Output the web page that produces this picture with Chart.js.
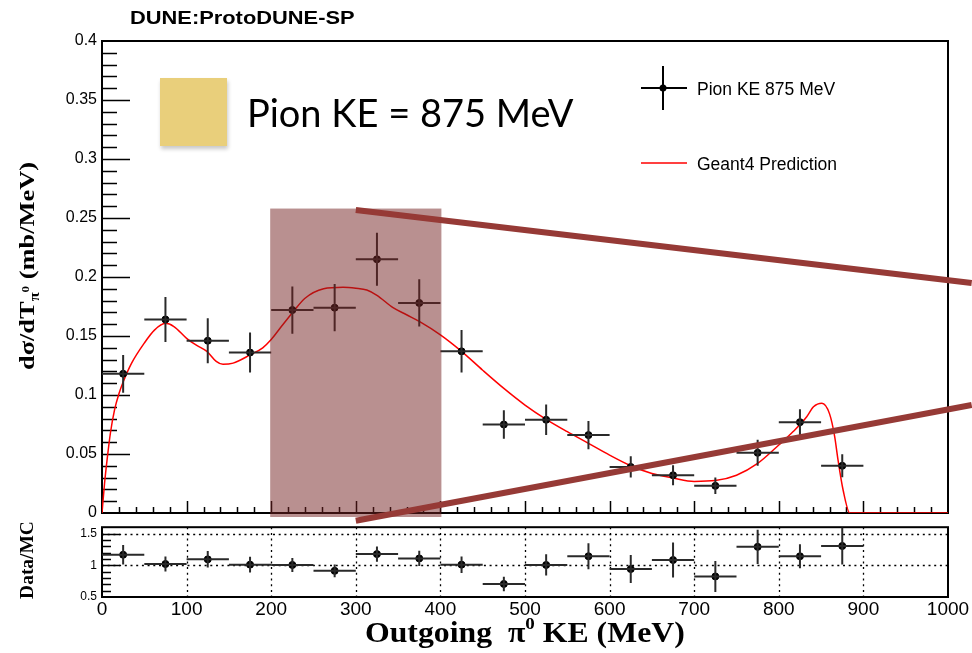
<!DOCTYPE html>
<html><head><meta charset="utf-8">
<script src="https://cdn.jsdelivr.net/npm/chart.js@4.4.1/dist/chart.umd.min.js"></script>
<style>
html,body{margin:0;padding:0;background:#fff;}
#wrap{position:relative;width:972px;height:653px;overflow:hidden;background:#fff;}
canvas{position:absolute;left:0;}
#cMain{top:0;}
#cRatio{top:515px;}
.t{position:absolute;white-space:nowrap;color:#000;}
#title{left:130px;top:8px;font:bold 19px/19px "Liberation Sans",Arial,sans-serif;transform:scaleX(1.15);transform-origin:left center;}
#big{left:247px;top:93px;font:38px/38px Lato,"Open Sans",sans-serif;}
#sq{position:absolute;left:160px;top:78px;width:67px;height:68px;background:#e9cf7b;box-shadow:1px 3px 4px rgba(0,0,0,0.22);}
.leg{font:17.5px/18px "Liberation Sans",Arial,sans-serif;left:697px;}
#xtitle{left:365px;top:618px;font:bold 29px/29px "Liberation Serif","Times New Roman",serif;transform:scaleX(1.095);transform-origin:left center;}
#xtitle sup{font-size:60%;line-height:0;vertical-align:0.75em;}
.yt{font-weight:bold;font-family:"Liberation Serif","Times New Roman",serif;text-align:center;transform-origin:center center;}
#ytitle{width:300px;height:24px;left:-123px;top:254px;font-size:22px;line-height:24px;transform:rotate(-90deg) scaleX(1.2);}
#ytitle sub{font-size:62%;line-height:0;vertical-align:-0.35em;}
#ytitle sub sup{font-size:80%;line-height:0;vertical-align:0.9em;}
#rtitle{width:120px;height:20px;left:-33px;top:550px;font-size:18px;line-height:20px;transform:rotate(-90deg) scaleX(1.08);}
</style></head><body>
<div id="wrap">
<canvas id="cMain" width="972" height="530"></canvas>
<canvas id="cRatio" width="972" height="138"></canvas>
<div class="t" id="title">DUNE:ProtoDUNE-SP</div>
<div id="sq"></div>
<div class="t" id="big">Pion KE = 875 MeV</div>
<div class="t leg" style="top:80px">Pion KE 875 MeV</div>
<div class="t leg" style="top:155px">Geant4 Prediction</div>
<div class="t" id="xtitle">Outgoing&nbsp;&nbsp;π<sup>0</sup> KE (MeV)</div>
<div class="t yt" id="ytitle">dσ/dT<sub>π<sup>0</sup></sub> (mb/MeV)</div>
<div class="t yt" id="rtitle">Data/MC</div>
</div>
<script>
// ---------- data ----------
const binCenters = [25,75,125,175,225,275,325,375,425,475,525,575,625,675,725,775,825,875];
const binHalfWidth = 25;
const xsec    = [0.118,0.164,0.146,0.136,0.172,0.174,0.215,0.178,0.137,0.075,0.079,0.066,0.039,0.032,0.023,0.051,0.077,0.040];
const xsecErr = [0.016,0.019,0.019,0.017,0.020,0.020,0.0225,0.020,0.018,0.012,0.013,0.012,0.009,0.0085,0.007,0.011,0.011,0.0097];
const ratio    = [1.166,1.02,1.093,1.01,1.005,0.912,1.176,1.108,1.01,0.706,1.005,1.142,0.941,1.083,0.824,1.29,1.142,1.304];
const ratioErr = [0.155,0.12,0.13,0.125,0.11,0.10,0.12,0.12,0.13,0.115,0.167,0.205,0.22,0.277,0.245,0.27,0.19,0.29];
const curveX = [0,3,6,10,15,20,25,35,50,62,75,85,100,112,124,135,143,155,175,190,200,212,226,240,262,285,300,313,325,344,360,376,400,425,450,475,500,525,550,575,600,625,650,675,700,725,750,775,800,817,833,841,851,860,866,870,876,884,900,1000];
const curveY = [0,0.025,0.045,0.068,0.088,0.101,0.111,0.127,0.144,0.155,0.1607,0.158,0.148,0.142,0.137,0.1285,0.126,0.127,0.134,0.140,0.147,0.158,0.1706,0.182,0.190,0.1913,0.1905,0.189,0.1845,0.174,0.168,0.162,0.151,0.137,0.121,0.1056,0.0915,0.0794,0.0689,0.059,0.049,0.0400,0.0335,0.0297,0.0268,0.0275,0.032,0.042,0.0576,0.069,0.0816,0.090,0.093,0.084,0.065,0.045,0.0195,0,0,0];
const yTickLabels = ['0','0.05','0.1','0.15','0.2','0.25','0.3','0.35','0.4'];
const xTickLabels = ['0','100','200','300','400','500','600','700','800','900','1000'];
const ratioTickValues = [0.5,1,1.5];
const ratioTickLabels = ['0.5','1','1.5'];
const gridX = [100,200,300,400,500,600,700,800,900];
const gridRatioY = [1,1.5];
// annotation (data coordinates)
const bandX = [200,400];
const bandTop = 0.258;
const arrowTop = [[300,0.2568],[1028,0.195]];
const arrowBottom = [[300,-0.0066],[1028,0.0915]];

const ERR_COLOR = '#2a2a2a';

function drawErrorBars(chart, vals, errs){
  const ctx = chart.ctx, xs = chart.scales.x, ys = chart.scales.y, a = chart.chartArea;
  ctx.save();
  ctx.beginPath(); ctx.rect(a.left, a.top, a.right-a.left, a.bottom-a.top); ctx.clip();
  ctx.strokeStyle = ERR_COLOR; ctx.lineWidth = 2;
  for (let i=0;i<binCenters.length;i++){
    const px = xs.getPixelForValue(binCenters[i]);
    const py = ys.getPixelForValue(vals[i]);
    ctx.beginPath();
    ctx.moveTo(xs.getPixelForValue(binCenters[i]-binHalfWidth), py);
    ctx.lineTo(xs.getPixelForValue(binCenters[i]+binHalfWidth), py);
    ctx.moveTo(px, ys.getPixelForValue(vals[i]-errs[i]));
    ctx.lineTo(px, ys.getPixelForValue(vals[i]+errs[i]));
    ctx.stroke();
  }
  ctx.restore();
}

const mainDeco = {
  id:'mainDeco',
  beforeDatasetsDraw(chart){
    const ctx = chart.ctx, xs = chart.scales.x, ys = chart.scales.y, a = chart.chartArea;
    ctx.save();
    ctx.strokeStyle = '#000'; ctx.lineWidth = 1.5;
    ctx.beginPath();
    for (let i=1;i<40;i++){
      const py = Math.round(ys.getPixelForValue(i/100))+0.5;
      const len = (i%5===0) ? 28 : 15;
      ctx.moveTo(a.left, py); ctx.lineTo(a.left+len, py);
    }
    for (let v=20; v<1000; v+=20){
      const px = Math.round(xs.getPixelForValue(v))+0.5;
      const len = (v%100===0) ? 12 : 6;
      ctx.moveTo(px, a.bottom); ctx.lineTo(px, a.bottom-len);
    }
    ctx.stroke();
    ctx.lineWidth = 2;
    ctx.strokeRect(a.left, a.top, a.right-a.left, a.bottom-a.top);
    ctx.restore();
  },
  afterDatasetsDraw(chart){
    drawErrorBars(chart, xsec, xsecErr);
  },
  afterDraw(chart){
    const ctx = chart.ctx, xs = chart.scales.x, ys = chart.scales.y, a = chart.chartArea;
    ctx.save();
    // legend symbols
    ctx.strokeStyle = '#000'; ctx.lineWidth = 2;
    ctx.beginPath();
    ctx.moveTo(641,88); ctx.lineTo(687,88);
    ctx.moveTo(663,66); ctx.lineTo(663,110);
    ctx.stroke();
    ctx.fillStyle = '#000';
    ctx.beginPath(); ctx.arc(663,88,3.5,0,Math.PI*2); ctx.fill();
    ctx.strokeStyle = '#ff0000'; ctx.lineWidth = 1.5;
    ctx.beginPath(); ctx.moveTo(641,163); ctx.lineTo(687,163); ctx.stroke();
    // zoom band overlay
    const x0 = xs.getPixelForValue(bandX[0]), x1 = xs.getPixelForValue(bandX[1]);
    const yT = ys.getPixelForValue(bandTop);
    ctx.fillStyle = 'rgba(116,34,34,0.5)';
    ctx.fillRect(x0-1, yT, x1-x0+2, a.bottom+4-yT);
    // thick guide lines
    ctx.strokeStyle = '#963a36'; ctx.lineWidth = 6; ctx.lineCap = 'butt';
    for (const seg of [arrowTop, arrowBottom]){
      ctx.beginPath();
      ctx.moveTo(xs.getPixelForValue(seg[0][0]), ys.getPixelForValue(seg[0][1]));
      ctx.lineTo(xs.getPixelForValue(seg[1][0]), ys.getPixelForValue(seg[1][1]));
      ctx.stroke();
    }
    ctx.restore();
  }
};

new Chart(document.getElementById('cMain'), {
  type:'scatter',
  data:{datasets:[
    {type:'line', label:'Geant4 Prediction', data: curveX.map((x,i)=>({x:x, y:curveY[i]})),
     borderColor:'#ff0000', borderWidth:1.5, pointRadius:0, cubicInterpolationMode:'monotone', fill:false, order:2},
    {label:'Pion KE 875 MeV', data: binCenters.map((x,i)=>({x:x, y:xsec[i]})),
     backgroundColor:'#000', borderColor:'#000', pointRadius:3.5, pointHoverRadius:3.5, order:1}
  ]},
  options:{
    responsive:false, animation:false, devicePixelRatio:1, events:[],
    layout:{padding:{top:41,right:24,bottom:17,left:0}},
    plugins:{legend:{display:false}, tooltip:{enabled:false}, title:{display:false}},
    scales:{
      x:{type:'linear', min:0, max:1000, display:false},
      y:{type:'linear', min:0, max:0.4,
         ticks:{stepSize:0.05, padding:5, color:'#000', font:{family:'Liberation Sans', size:16},
                callback:(v,i)=>yTickLabels[i]},
         grid:{display:false, drawTicks:false}, border:{display:false},
         afterFit:(s)=>{s.width=102;}}
    }
  },
  plugins:[mainDeco]
});

const ratioDeco = {
  id:'ratioDeco',
  beforeDatasetsDraw(chart){
    const ctx = chart.ctx, xs = chart.scales.x, ys = chart.scales.y, a = chart.chartArea;
    ctx.save();
    ctx.strokeStyle = '#000'; ctx.lineWidth = 1.3; ctx.setLineDash([2,3.7]);
    ctx.beginPath();
    for (const g of gridX){ const px = Math.round(xs.getPixelForValue(g))+0.5; ctx.moveTo(px,a.top); ctx.lineTo(px,a.bottom); }
    for (const g of gridRatioY){ const py = Math.round(ys.getPixelForValue(g))+0.5; ctx.moveTo(a.left,py); ctx.lineTo(a.right,py); }
    ctx.stroke();
    ctx.setLineDash([]);
    ctx.lineWidth = 1.5;
    ctx.beginPath();
    for (let i=6;i<=15;i++){
      const v = i/10;
      const py = Math.round(ys.getPixelForValue(v))+0.5;
      const len = (i%5===0) ? 18 : 9;
      ctx.moveTo(a.left,py); ctx.lineTo(a.left+len,py);
    }
    ctx.stroke();
    ctx.lineWidth = 2;
    ctx.strokeRect(a.left, a.top, a.right-a.left, a.bottom-a.top);
    ctx.restore();
  },
  afterDatasetsDraw(chart){
    drawErrorBars(chart, ratio, ratioErr);
  }
};

new Chart(document.getElementById('cRatio'), {
  type:'scatter',
  data:{datasets:[
    {label:'Data/MC', data: binCenters.map((x,i)=>({x:x, y:ratio[i]})),
     backgroundColor:'#000', borderColor:'#000', pointRadius:3.5, pointHoverRadius:3.5}
  ]},
  options:{
    responsive:false, animation:false, devicePixelRatio:1, events:[],
    layout:{padding:{top:8,right:24,bottom:0,left:0}},
    plugins:{legend:{display:false}, tooltip:{enabled:false}},
    scales:{
      x:{type:'linear', min:0, max:1000,
         ticks:{stepSize:100, padding:1, maxRotation:0, autoSkip:false, color:'#000',
                font:{family:'Liberation Sans', size:19}, callback:(v,i)=>xTickLabels[i]},
         grid:{display:false, drawTicks:false}, border:{display:false},
         afterFit:(s)=>{s.height=56;}},
      y:{type:'linear', min:0.5, max:1.6,
         afterBuildTicks:(s)=>{s.ticks = ratioTickValues.map(v=>({value:v}));},
         ticks:{padding:5, color:'#000', font:{family:'Liberation Sans', size:12},
                callback:(v,i)=>ratioTickLabels[i]},
         grid:{display:false, drawTicks:false}, border:{display:false},
         afterFit:(s)=>{s.width=102;}}
    }
  },
  plugins:[ratioDeco]
});
</script>
</body></html>
